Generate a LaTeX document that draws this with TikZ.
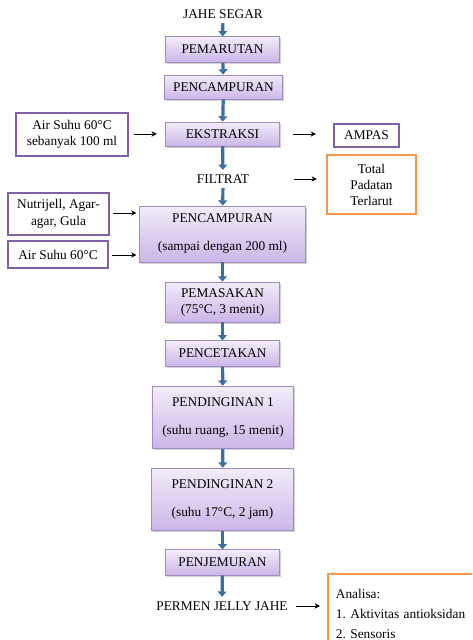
\documentclass[tikz,border=0pt]{standalone}
\usepackage{fontspec}
\setmainfont{Liberation Serif}
\usetikzlibrary{arrows.meta,shadows}
\frenchspacing
\definecolor{boxtop}{RGB}{242,236,250}
\definecolor{boxbot}{RGB}{203,182,232}
\definecolor{boxline}{RGB}{160,140,192}
\definecolor{inline}{RGB}{128,96,168}
\definecolor{outline}{RGB}{247,150,70}
\definecolor{flowblue}{RGB}{58,110,165}
\begin{document}
\begin{tikzpicture}[x=0.75pt,y=0.75pt,yscale=-1,xscale=1,
  procbox/.style={draw=boxline,line width=0.6pt,top color=boxtop,bottom color=boxbot,
    drop shadow={opacity=0.35,shadow xshift=1.2pt,shadow yshift=-1.2pt},
    align=center,inner sep=0pt},
  inbox/.style={draw=inline,line width=1.3pt,fill=white,align=center,inner sep=0pt},
  outbox/.style={draw=outline,line width=1.4pt,fill=white,align=center,inner sep=0pt},
  flow/.style={draw=flowblue,line width=2.4pt,-{Triangle[width=6.5pt,length=4pt]}},
  side/.style={draw=black,line width=0.6pt,-{Stealth[width=4pt,length=4pt]}}]
\clip (0,0) rectangle (472,640);
\useasboundingbox (0,0) rectangle (472,640);
\fill[white] (0,0) rectangle (472,640);

% Text Node
\node (jahe) at (223,14) {JAHE SEGAR};
%Shape: Rectangle
\node[procbox,minimum width=86pt,minimum height=19pt] (pemarutan) at (222.5,49.5) {PEMARUTAN};
\node[procbox,minimum width=88pt,minimum height=18pt] (campur) at (223.5,87) {PENCAMPURAN};
\node[procbox,minimum width=86pt,minimum height=18pt] (ekstraksi) at (222.5,134) {EKSTRAKSI};
\node[inbox,minimum width=84pt,minimum height=32pt] (airA) at (72,134.5) {Air Suhu 60°C\\sebanyak 100 ml};
\node[inbox,minimum width=49pt,minimum height=17pt] (ampas) at (366.5,135.5) {AMPAS};
% Text Node
\node (filtrat) at (223,179) {FILTRAT};
\node[outbox,minimum width=67pt,minimum height=44pt] (total) at (371.5,184.5) {Total\\Padatan\\Terlarut};
\node[inbox,minimum width=76pt,minimum height=31.5pt] (nutri) at (58.5,214) {Nutrijell, Agar-\\[1pt]agar, Gula};
\node[inbox,minimum width=75pt,minimum height=20pt] (airB) at (58,254.5) {Air Suhu 60°C};
\node[procbox,minimum width=124pt,minimum height=42pt] (campurB) at (222.5,234) {PENCAMPURAN\\[9pt](sampai dengan 200 ml)};
\node[procbox,minimum width=85pt,minimum height=30pt] (masak) at (222.5,302) {PEMASAKAN\\(75°C, 3 menit)};
\node[procbox,minimum width=86pt,minimum height=19pt] (cetak) at (222.5,353.5) {PENCETAKAN};
\node[procbox,minimum width=106pt,minimum height=47pt] (dinginA) at (223,417.5) {PENDINGINAN 1\\[9pt](suhu ruang, 15 menit)};
\node[procbox,minimum width=106pt,minimum height=47pt] (dinginB) at (222.5,499.5) {PENDINGINAN 2\\[9pt](suhu 17°C, 2 jam)};
\node[procbox,minimum width=86pt,minimum height=19pt] (jemur) at (222.5,562.5) {PENJEMURAN};
% Text Node
\node (permen) at (222,606) {PERMEN JELLY JAHE};
\node[outbox,anchor=north west,minimum width=108pt,minimum height=60pt,align=left,
  text width=100pt,inner sep=6pt] (analisa) at (327,573)
  {Analisa:\\[3pt]1. Aktivitas antioksidan\\[3pt]2. Sensoris};

%Straight Lines
\draw[flow] (jahe) -- (pemarutan);
\draw[flow] (pemarutan) -- (campur);
\draw[flow] (campur) -- (ekstraksi);
\draw[flow] (ekstraksi) -- (filtrat);
\draw[flow] (filtrat) -- (campurB);
\draw[flow] (campurB) -- (masak);
\draw[flow] (masak) -- (cetak);
\draw[flow] (cetak) -- (dinginA);
\draw[flow] (dinginA) -- (dinginB);
\draw[flow] (dinginB) -- (jemur);
\draw[flow] (jemur) -- (permen);

\draw[side,shorten <=3.75pt,shorten >=6pt] (airA.east |- ekstraksi.west) -- (ekstraksi.west);
\draw[side,shorten <=9.75pt,shorten >=12.75pt] (ekstraksi.east) -- (ekstraksi.east -| ampas.west);
\draw[side,shorten <=10.5pt,shorten >=6.75pt] (filtrat.east -| ekstraksi.east) -- (filtrat.east -| total.west);
\draw[side,shorten <=2.25pt,shorten >=2.25pt] (nutri.east |- 0,213) -- (campurB.west |- 0,213);
\draw[side,shorten <=2.25pt,shorten >=2.25pt] (airB.east |- 0,255) -- (campurB.west |- 0,255);
\draw[side,shorten <=3pt,shorten >=5.25pt] (permen.east) -- (permen.east -| analisa.west);

\end{tikzpicture}
\end{document}
